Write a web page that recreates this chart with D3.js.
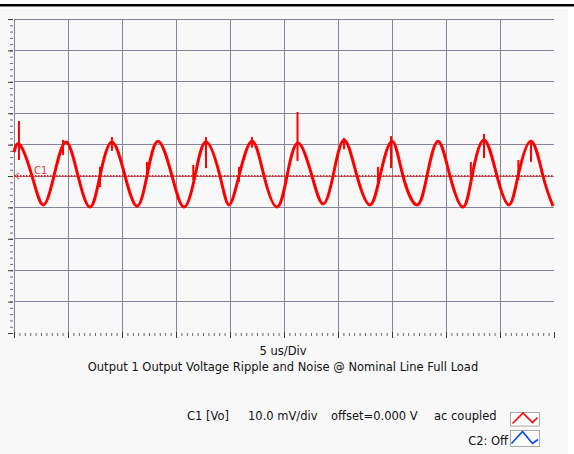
<!DOCTYPE html>
<html>
<head>
<meta charset="utf-8">
<script src="https://cdn.jsdelivr.net/npm/d3@7"></script>
<style>
  body { margin: 0; background: #ffffff; }
  svg { display: block; font-family: 'DejaVu Sans', Tahoma, sans-serif; }
  .axis path { display: none; }
  .major line { stroke: #3a3a3a; }
  .minor line { stroke: #6a6a6a; }
</style>
</head>
<body>
<div id="scope"></div>
<script>
  // trace C1: time in us, voltage in mV
  let traceTime = [0.00, 0.56, 1.67, 2.69, 3.70, 4.81, 5.93, 7.04, 7.96, 9.07,
    10.28, 11.39, 12.31, 13.33, 14.63, 15.74, 16.76, 17.78, 19.07, 19.91,
    20.83, 22.04, 23.15, 24.35, 25.28, 26.30, 27.59, 28.61, 29.54, 30.56,
    31.76, 32.96, 33.89, 35.00, 36.02, 37.31, 38.24, 39.26, 40.37, 41.57,
    42.41, 43.52, 44.72, 45.83, 46.67, 47.87, 48.98, 49.91];
  let traceMv = [7.6, 9.9, 0, -9.2, 0, 10.8, 0, -9.9, 0, 10.8,
    0, -9.6, 0, 11.1, 0, -9.9, 0, 10.8, 0, -9.2,
    0, 11.1, 0, -9.9, 0, 10.5, 0, -8.9, 0, 11.5,
    0, -9.2, 0, 11.1, 0, -9.2, 0, 11.1, 0, -9.9,
    0, 11.5, 0, -9.2, 0, 11.1, 0, -9.6];

  // switching noise spikes: time, top, bottom (mV)
  let spikeTime = [0.46, 4.54, 7.96, 9.07, 12.31, 16.6, 17.78, 20.83, 22.04, 26.25,
    30.56, 33.7, 34.91, 42.3, 43.52, 46.7, 47.87];
  let spikeHigh = [17.5, 11.5, 2.9, 12.4, 4.5, 3.5, 12.4, 2.9, 12.4, 20.4,
    12.1, 2.9, 12.7, 4.5, 13.4, 5.1, 11.5];
  let spikeLow = [5.1, 6.7, -3.5, 8.0, -1.0, -1.3, 2.5, -1.9, 9.0, 4.8,
    8.5, -2.0, 2.5, -1.0, 5.7, -1.3, 4.5];

  let xMajor = [0, 5, 10, 15, 20, 25, 30, 35, 40, 45, 50];
  let yMajor = [-50, -40, -30, -20, -10, 0, 10, 20, 30, 40, 50];

  let timeLabel = '5 us/Div';
  let title = 'Output 1 Output Voltage Ripple and Noise @ Nominal Line Full Load';
  let legendC1 = ['C1 [Vo]', '10.0 mV/div', 'offset=0.000 V', 'ac coupled'];
  let legendC2 = 'C2: Off';

  let width = 574;
  let height = 454;
  let plot = { left: 14, right: 554, top: 19, bottom: 333 };

  let x = d3.scaleLinear().domain([0, 50]).range([plot.left, plot.right]);
  let y = d3.scaleLinear().domain([-50, 50]).range([plot.bottom, plot.top]);

  let svg = d3
    .select('#scope')
    .append('svg')
    .attr('width', width)
    .attr('height', height);

  // window frame
  svg.append('rect')
    .attr('x', 0).attr('y', 9)
    .attr('width', 568).attr('height', height - 9)
    .attr('fill', '#f8f8f8');
  svg.append('rect')
    .attr('x', 0).attr('y', 4)
    .attr('width', width).attr('height', 2.5)
    .attr('fill', '#000');

  let grid = svg.append('g')
    .attr('stroke', '#84849c')
    .attr('stroke-width', 1)
    .attr('shape-rendering', 'crispEdges');

  grid.selectAll('.v')
    .data(xMajor.slice(0, -1))
    .enter()
    .append('line')
    .attr('x1', (d) => x(d)).attr('x2', (d) => x(d))
    .attr('y1', plot.top).attr('y2', plot.bottom);

  grid.selectAll('.h')
    .data(yMajor.slice(1))
    .enter()
    .append('line')
    .attr('x1', plot.left).attr('x2', plot.right)
    .attr('y1', (d) => y(d)).attr('y2', (d) => y(d));

  // left ticks
  svg.append('g')
    .attr('class', 'axis minor')
    .attr('transform', `translate(${plot.left - 1}, 0)`)
    .call(d3.axisLeft(y).tickValues(d3.range(-50, 51, 2)).tickSize(3).tickFormat(''));
  svg.append('g')
    .attr('class', 'axis major')
    .attr('transform', `translate(${plot.left - 1}, 0)`)
    .call(d3.axisLeft(y).tickValues(yMajor).tickSize(5).tickFormat(''));

  // bottom ticks
  svg.append('g')
    .attr('class', 'axis minor')
    .attr('transform', `translate(0, ${plot.bottom})`)
    .call(d3.axisBottom(x).tickValues(d3.range(0, 50.01, 0.5)).tickSize(3).tickFormat(''));
  svg.append('g')
    .attr('class', 'axis major')
    .attr('transform', `translate(0, ${plot.bottom - 1})`)
    .call(d3.axisBottom(x).tickValues(xMajor).tickSize(6).tickFormat(''));

  // C1 ground reference
  svg.append('line')
    .attr('x1', plot.left).attr('x2', plot.right)
    .attr('y1', y(0)).attr('y2', y(0))
    .attr('stroke', '#ee2020')
    .attr('stroke-width', 2)
    .attr('stroke-dasharray', '1.5,1.5');
  svg.append('path')
    .attr('d', `M${plot.left + 5},${y(0) - 3} L${plot.left + 1},${y(0)} L${plot.left + 5},${y(0) + 3}`)
    .attr('fill', 'none')
    .attr('stroke', '#ee3030')
    .attr('stroke-width', 1);
  svg.append('text')
    .attr('x', 34).attr('y', y(0) - 2.5)
    .attr('font-size', 10)
    .attr('fill', '#e03838')
    .text('C1');

  let trace = traceTime.map((t, i) => ({ t: t, v: traceMv[i] }));

  let line = d3.line()
    .x((d) => x(d.t))
    .y((d) => y(d.v))
    .curve(d3.curveNatural);

  svg.append('path')
    .datum(trace)
    .attr('d', line)
    .attr('fill', 'none')
    .attr('stroke', '#ff0000')
    .attr('stroke-width', 3)
    .attr('stroke-linejoin', 'round');

  svg.append('g')
    .selectAll('line')
    .data(spikeTime)
    .enter()
    .append('line')
    .attr('x1', (d) => x(d)).attr('x2', (d) => x(d))
    .attr('y1', (d, i) => y(spikeHigh[i]))
    .attr('y2', (d, i) => y(spikeLow[i]))
    .attr('stroke', '#ff0000')
    .attr('stroke-width', 2);

  // captions
  svg.append('text')
    .attr('x', 283).attr('y', 355)
    .attr('text-anchor', 'middle')
    .attr('font-size', 11.5)
    .attr('fill', '#111')
    .text(timeLabel);
  svg.append('text')
    .attr('x', 283).attr('y', 371)
    .attr('text-anchor', 'middle')
    .attr('font-size', 11.5)
    .attr('fill', '#111')
    .text(title);

  let legendX = [187, 248, 331, 434];
  svg.append('g')
    .selectAll('text')
    .data(legendC1)
    .enter()
    .append('text')
    .attr('x', (d, i) => legendX[i])
    .attr('y', 420)
    .attr('font-size', 11.5)
    .attr('fill', '#111')
    .text((d) => d);

  svg.append('text')
    .attr('x', 508).attr('y', 445)
    .attr('text-anchor', 'end')
    .attr('font-size', 11.5)
    .attr('fill', '#111')
    .text(legendC2);

  let boxes = [
    { y: 412, h: 13.5, color: '#ff0000', pts: [[2.5, 11.5], [13, 1], [22.5, 10.5], [27.5, 5.5]] },
    { y: 430, h: 16, color: '#0044ff', pts: [[1.5, 13.5], [12.5, 1.5], [22.5, 13.5], [28, 9.5]] }
  ];

  boxes.forEach((b) => {
    let g = svg.append('g').attr('transform', `translate(510, ${b.y})`);
    g.append('rect')
      .attr('x', 0.5).attr('y', 0.5)
      .attr('width', 29).attr('height', b.h)
      .attr('fill', '#ffffff')
      .attr('stroke', '#a8a8a8');
    g.append('path')
      .attr('d', d3.line()(b.pts))
      .attr('fill', 'none')
      .attr('stroke', b.color)
      .attr('stroke-width', 1.6);
  });
</script>
</body>
</html>
